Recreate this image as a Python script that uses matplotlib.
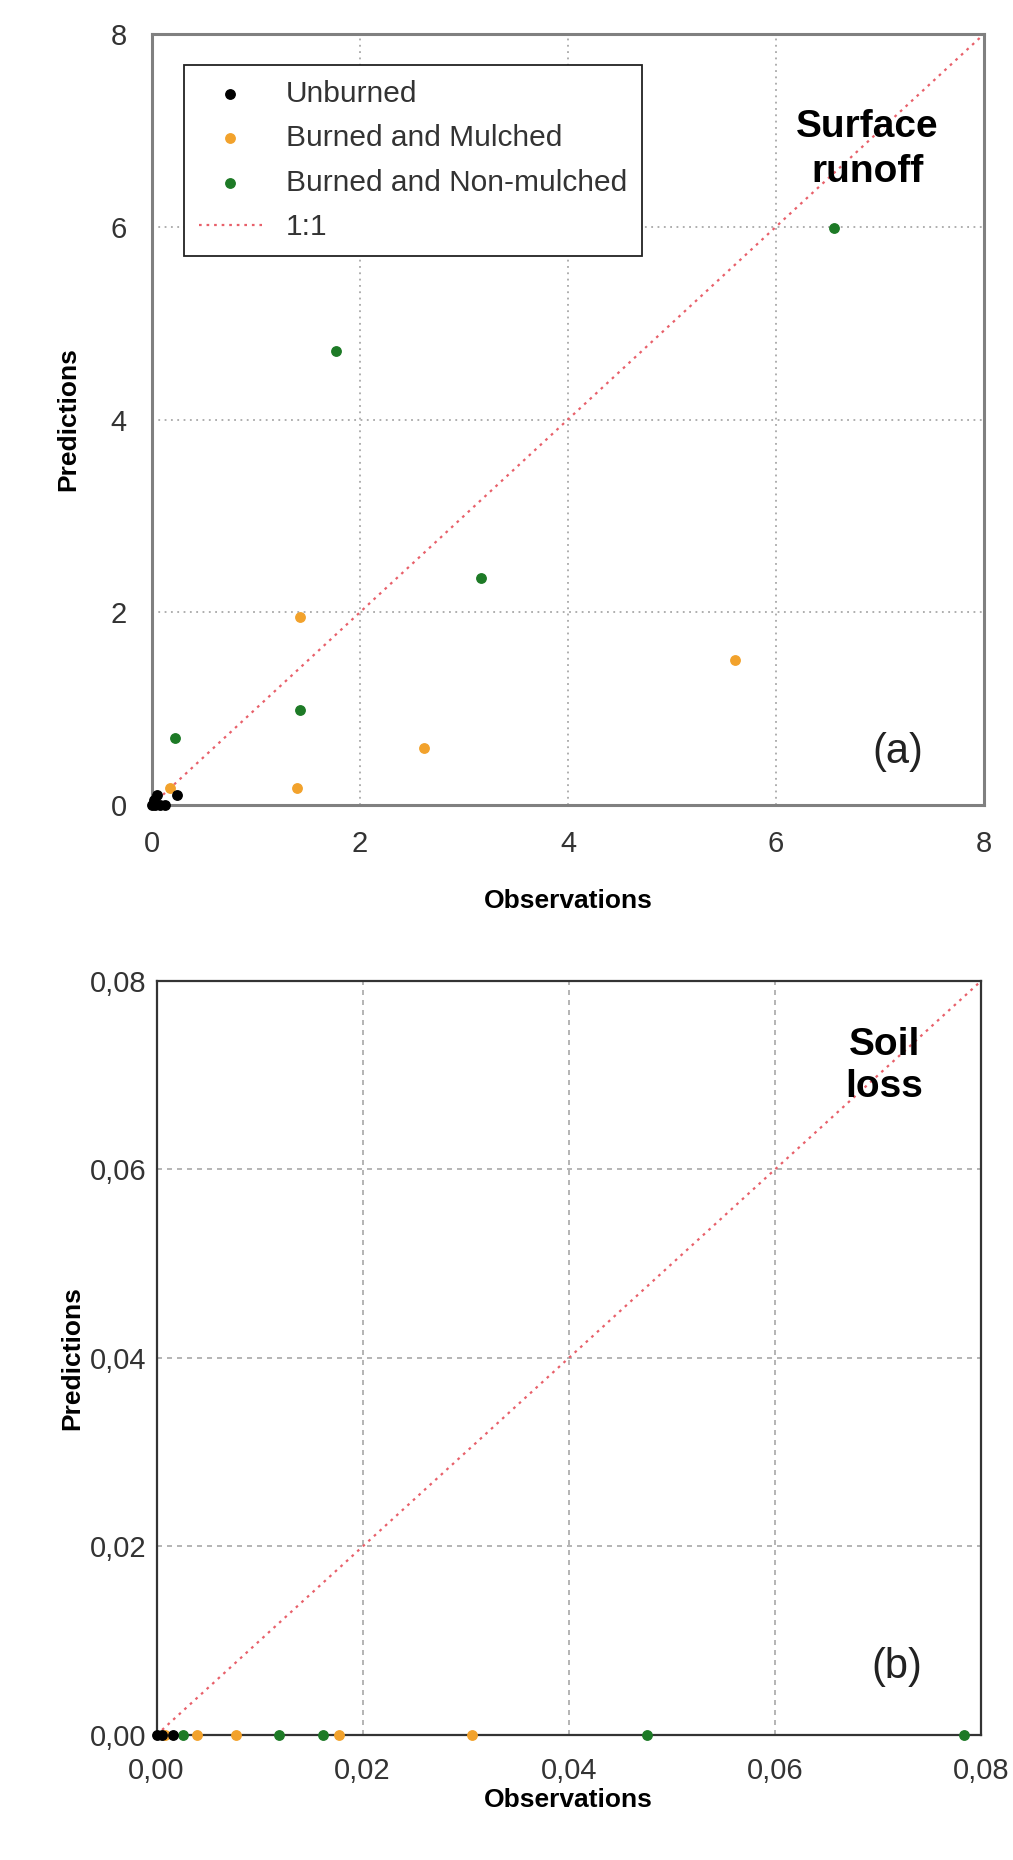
import numpy as np
import matplotlib
matplotlib.use("Agg")
import matplotlib.pyplot as plt
from matplotlib.ticker import FuncFormatter

plt.rcParams['font.family'] = ['Liberation Sans', 'DejaVu Sans']

# (a) surface runoff
a_unb_obs = [0.00, 0.03, 0.08, 0.13, 0.05, 0.24, 0.02]
a_unb_pred = [0.00, 0.00, 0.00, 0.00, 0.10, 0.10, 0.05]
a_mul_obs = [1.42, 5.61, 2.62, 1.39, 0.17]
a_mul_pred = [1.95, 1.50, 0.59, 0.18, 0.18]
a_non_obs = [6.56, 1.77, 3.16, 1.42, 0.22]
a_non_pred = [5.99, 4.71, 2.36, 0.99, 0.70]

# (b) soil loss
b_unb_obs = [0.0000, 0.0005, 0.0016]
b_unb_pred = [0.0, 0.0, 0.0]
b_mul_obs = [0.0008, 0.0039, 0.0077, 0.0177, 0.0306]
b_mul_pred = [0.0, 0.0, 0.0, 0.0, 0.0]
b_non_obs = [0.0026, 0.0119, 0.0162, 0.0476, 0.0783]
b_non_pred = [0.0, 0.0, 0.0, 0.0, 0.0]

c_unb = 'black'
c_mul = '#f2a22c'
c_non = '#1d7a26'
c_line = '#e8606a'
ms = 46

fig = plt.figure(figsize=(10.13, 18.6), dpi=100)
ax1 = fig.add_axes([0.150, 0.5672, 0.8213, 0.4145])
ax2 = fig.add_axes([0.1545, 0.0672, 0.8140, 0.4054])

# panel a
ax1.plot([0, 8], [0, 8], linestyle=(0, (1.2, 2.2)), color=c_line, lw=1.6, label='1:1', zorder=2)
ax1.scatter(a_unb_obs, a_unb_pred, s=ms, color=c_unb, label='Unburned', zorder=4, clip_on=False)
ax1.scatter(a_mul_obs, a_mul_pred, s=ms, color=c_mul, label='Burned and Mulched', zorder=3, clip_on=False)
ax1.scatter(a_non_obs, a_non_pred, s=ms, color=c_non, label='Burned and Non-mulched', zorder=3, clip_on=False)
ax1.set_xlim(0, 8)
ax1.set_ylim(0, 8)
ax1.set_xticks([0, 2, 4, 6, 8])
ax1.set_yticks([0, 2, 4, 6, 8])
ax1.grid(True, color='#a8a8a8', linestyle=(0, (1, 2.5)), lw=1.3)
for sp in ax1.spines.values():
    sp.set_color('#808080')
    sp.set_linewidth(2.2)
ax1.tick_params(length=0, labelsize=21, pad=18, labelcolor='#333333')
ax1.set_xlabel('Observations', fontsize=19, fontweight='bold', labelpad=22)
ax1.set_ylabel('Predictions', fontsize=19, fontweight='bold', labelpad=22)
ax1.text(6.88, 6.8, 'Surface\nrunoff', fontsize=28, fontweight='bold', ha='center', va='center', linespacing=1.3)
ax1.text(7.17, 0.55, '(a)', fontsize=30, ha='center', va='center', color='#222222')

h, l = ax1.get_legend_handles_labels()
order = [1, 2, 3, 0]
leg = ax1.legend([h[i] for i in order], [l[i] for i in order], loc='upper left',
                 bbox_to_anchor=(0.0385, 0.96), fontsize=21.5, frameon=True, fancybox=False,
                 edgecolor='#222222', framealpha=1, borderaxespad=0, handlelength=2.1,
                 handletextpad=0.8, labelspacing=0.55, borderpad=0.5, scatterpoints=1)
leg.get_frame().set_linewidth(1.3)
for t in leg.get_texts():
    t.set_color('#333333')

# panel b
ax2.plot([0, 0.08], [0, 0.08], linestyle=(0, (1.2, 2.2)), color=c_line, lw=1.6, zorder=2)
ax2.scatter(b_unb_obs, b_unb_pred, s=ms, color=c_unb, zorder=4, clip_on=False)
ax2.scatter(b_mul_obs, b_mul_pred, s=ms, color=c_mul, zorder=3, clip_on=False)
ax2.scatter(b_non_obs, b_non_pred, s=ms, color=c_non, zorder=3, clip_on=False)
ax2.set_xlim(0, 0.08)
ax2.set_ylim(0, 0.08)
ax2.set_xticks([0, 0.02, 0.04, 0.06, 0.08])
ax2.set_yticks([0, 0.02, 0.04, 0.06, 0.08])
fmt = FuncFormatter(lambda v, p: f"{v:.2f}".replace('.', ','))
ax2.xaxis.set_major_formatter(fmt)
ax2.yaxis.set_major_formatter(fmt)
ax2.grid(True, color='#a8a8a8', linestyle=(0, (3, 3)), lw=1.2)
for sp in ax2.spines.values():
    sp.set_color('#333333')
    sp.set_linewidth(1.6)
ax2.tick_params(axis='x', length=0, labelsize=21, pad=16, labelcolor='#333333')
ax2.tick_params(axis='y', length=0, labelsize=21, pad=7, labelcolor='#333333')
ax2.set_xlabel('Observations', fontsize=19, fontweight='bold', labelpad=2)
ax2.set_ylabel('Predictions', fontsize=19, fontweight='bold', labelpad=4)
ax2.text(0.0706, 0.071, 'Soil\nloss', fontsize=28, fontweight='bold', ha='center', va='center', linespacing=1.2)
ax2.text(0.0718, 0.0072, '(b)', fontsize=30, ha='center', va='center', color='#222222')

fig.savefig('out.png', dpi=100, facecolor='white')
